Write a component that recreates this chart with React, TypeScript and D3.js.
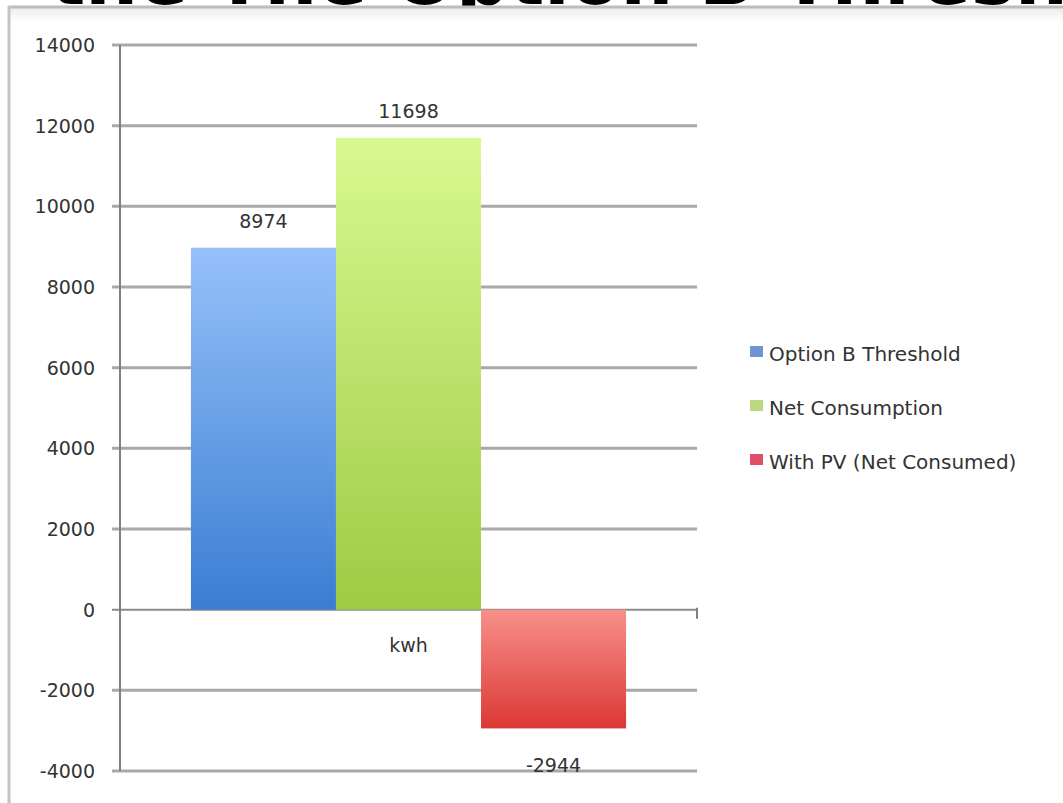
import React from 'react';
import { scaleBand, scaleLinear } from 'd3';

const categories = ['kwh'];
const seriesNames = ['Option B Threshold', 'Net Consumption', 'With PV (Net Consumed)'];
const seriesValues = [8974, 11698, -2944];
const yTicks = [14000, 12000, 10000, 8000, 6000, 4000, 2000, 0, -2000, -4000];
const title = 'the The Option B Threshold';

const colors = [
  { top: '#95c1fa', bottom: '#3b7dd2', key: '#6f93d3' },
  { top: '#d8f991', bottom: '#9dcb43', key: '#bcd97e' },
  { top: '#f7908a', bottom: '#dc3834', key: '#df4f6a' },
];

const dim = {
  width: 1063,
  height: 803,
  left: 120,
  right: 697,
  top: 45,
  bottom: 771,
};

const App = () => {
  const y = scaleLinear().domain([-4000, 14000]).range([dim.bottom, dim.top]);
  const x0 = scaleBand<string>()
    .domain(categories)
    .range([dim.left, dim.right])
    .paddingInner(0)
    .paddingOuter(0.163);
  const x1 = scaleBand<string>()
    .domain(seriesNames)
    .range([0, x0.bandwidth()])
    .padding(0);
  const font = '"DejaVu Sans", Verdana, sans-serif';

  return (
    <svg
      width={dim.width}
      height={dim.height}
      style={{ position: 'absolute', left: 0, top: 0, display: 'block', background: '#fff' }}
    >
      <defs>
        {colors.map((c, i) => (
          <linearGradient key={i} id={`g${i}`} x1="0" y1="0" x2="0" y2="1">
            <stop offset="0%" stopColor={c.top} />
            <stop offset="100%" stopColor={c.bottom} />
          </linearGradient>
        ))}
        <linearGradient id="frameShade" x1="0" y1="0" x2="0" y2="1">
          <stop offset="0%" stopColor="#ececec" />
          <stop offset="100%" stopColor="#ffffff" />
        </linearGradient>
      </defs>

      {/* cut-off slide title */}
      <text x={50} y={4} fontFamily={font} fontWeight="bold" fontSize={74} fill="#000">
        {title}
      </text>

      {/* frame */}
      <rect x={10} y={8} width={dim.width - 10} height={14} fill="url(#frameShade)" />
      <line x1={8} x2={dim.width} y1={7} y2={7} stroke="#bdbdbd" strokeWidth={3} />
      <line x1={9} x2={9} y1={6} y2={dim.height} stroke="#c4c4c4" strokeWidth={3} />

      {/* gridlines */}
      {yTicks.map((t) => (
        <line
          key={t}
          x1={112}
          x2={dim.right}
          y1={y(t)}
          y2={y(t)}
          stroke={t === 0 ? '#8a8a8a' : '#a8a8a8'}
          strokeWidth={t === 0 ? 2 : 3}
        />
      ))}
      <line x1={dim.left} x2={dim.left} y1={y(14000)} y2={y(-4000)} stroke="#808080" strokeWidth={2} />
      <line x1={dim.right} x2={dim.right} y1={y(0) - 2} y2={y(0) + 9} stroke="#808080" strokeWidth={2} />

      {/* y tick labels */}
      {yTicks.map((t) => (
        <text
          key={t}
          x={95}
          y={y(t)}
          dy="0.36em"
          textAnchor="end"
          fontFamily={font}
          fontSize={19}
          fill="#333"
        >
          {t}
        </text>
      ))}

      {/* bars */}
      {categories.map((cat) => (
        <g key={cat} transform={`translate(${x0(cat)},0)`}>
          {seriesNames.map((s, i) => {
            const v = seriesValues[i];
            const yTop = y(Math.max(0, v));
            const yBot = y(Math.min(0, v));
            return (
              <rect
                key={s}
                x={x1(s)}
                y={yTop}
                width={x1.bandwidth()}
                height={yBot - yTop}
                fill={`url(#g${i})`}
              />
            );
          })}
          {seriesNames.map((s, i) => {
            const v = seriesValues[i];
            const cx = (x1(s) ?? 0) + x1.bandwidth() / 2;
            const ly = v >= 0 ? y(v) - 20 : y(v) + 44;
            return (
              <text
                key={s}
                x={cx}
                y={ly}
                textAnchor="middle"
                fontFamily={font}
                fontSize={19}
                fill="#333"
              >
                {v}
              </text>
            );
          })}
        </g>
      ))}

      {/* category label */}
      {categories.map((cat) => (
        <text
          key={cat}
          x={(x0(cat) ?? 0) + x0.bandwidth() / 2}
          y={y(0) + 42}
          textAnchor="middle"
          fontFamily={font}
          fontSize={19}
          fill="#333"
        >
          {cat}
        </text>
      ))}

      {/* legend */}
      {seriesNames.map((s, i) => (
        <g key={s} transform={`translate(750,${354 + i * 54})`}>
          <rect x={0} y={-8} width={13} height={11} fill={colors[i].key} />
          <text x={19} y={0} dy="0.36em" fontFamily={font} fontSize={20} fill="#333">
            {s}
          </text>
        </g>
      ))}
    </svg>
  );
};

export default App;
